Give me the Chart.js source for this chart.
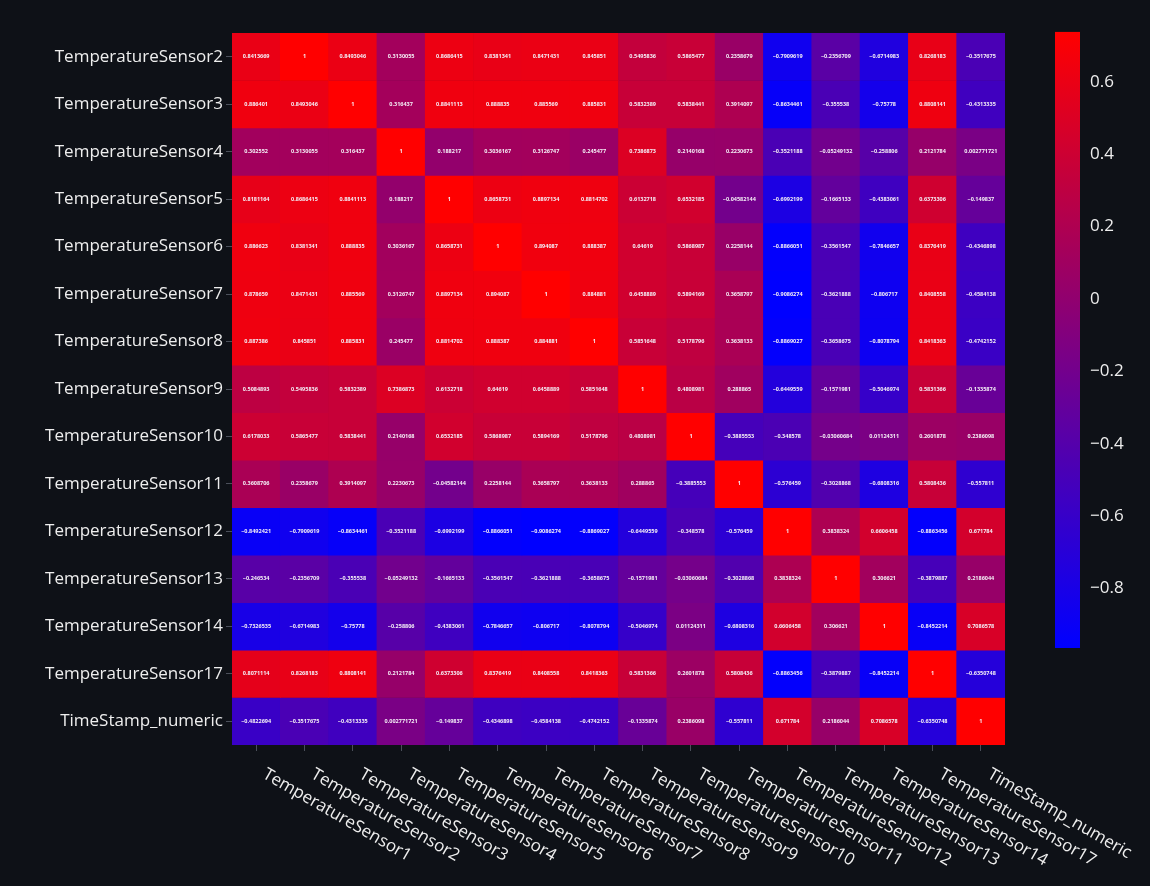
<!DOCTYPE html>
<html>
<head>
<meta charset="utf-8">
<title>Sensor correlation heatmap</title>
<script src="https://cdn.jsdelivr.net/npm/chart.js@4.4.1/dist/chart.umd.min.js"></script>
<style>
  html, body { margin: 0; padding: 0; background: #0e1117; }
  #wrap { position: absolute; left: 0; top: 0; width: 1150px; height: 886px; }
</style>
</head>
<body>
<div id="wrap"><canvas id="heatmap" width="1150" height="886"></canvas></div>
<script>
// Column variables (x) and row variables (y) of the correlation matrix
const COLUMN_LABELS = [
  'TemperatureSensor1', 'TemperatureSensor2', 'TemperatureSensor3', 'TemperatureSensor4',
  'TemperatureSensor5', 'TemperatureSensor6', 'TemperatureSensor7', 'TemperatureSensor8',
  'TemperatureSensor9', 'TemperatureSensor10', 'TemperatureSensor11', 'TemperatureSensor12',
  'TemperatureSensor13', 'TemperatureSensor14', 'TemperatureSensor17', 'TimeStamp_numeric'
];
const ROW_LABELS = [
  'TemperatureSensor2', 'TemperatureSensor3', 'TemperatureSensor4', 'TemperatureSensor5',
  'TemperatureSensor6', 'TemperatureSensor7', 'TemperatureSensor8', 'TemperatureSensor9',
  'TemperatureSensor10', 'TemperatureSensor11', 'TemperatureSensor12', 'TemperatureSensor13',
  'TemperatureSensor14', 'TemperatureSensor17', 'TimeStamp_numeric'
];

// Correlation coefficients, one row per variable (columns in COLUMN_LABELS order)
const sensor2 = [0.8413669, 1, 0.8493046, 0.3130055, 0.8686415, 0.8381341, 0.8471431, 0.845851, 0.5495836, 0.5865477, 0.2358679, -0.7909619, -0.2356709, -0.6714983, 0.8268183, -0.3517675];
const sensor3 = [0.886401, 0.8493046, 1, 0.316437, 0.8841113, 0.888835, 0.885569, 0.885831, 0.5832389, 0.5838441, 0.3914097, -0.8634461, -0.355538, -0.75778, 0.8808141, -0.4313335];
const sensor4 = [0.302552, 0.3130055, 0.316437, 1, 0.188217, 0.3036167, 0.3126747, 0.245477, 0.7386873, 0.2140168, 0.2230673, -0.3521188, -0.05249132, -0.258806, 0.2121784, 0.002771721];
const sensor5 = [0.8181164, 0.8686415, 0.8841113, 0.188217, 1, 0.8658731, 0.8897134, 0.8814702, 0.6132718, 0.6532185, -0.04582144, -0.6992199, -0.1665133, -0.4383061, 0.6373306, -0.149837];
const sensor6 = [0.886623, 0.8381341, 0.888835, 0.3036167, 0.8658731, 1, 0.894087, 0.888387, 0.64619, 0.5868987, 0.2258144, -0.8866051, -0.3561547, -0.7846657, 0.8376419, -0.4346898];
const sensor7 = [0.878659, 0.8471431, 0.885569, 0.3126747, 0.8897134, 0.894087, 1, 0.884881, 0.6458889, 0.5894169, 0.3658797, -0.9086274, -0.3621888, -0.806717, 0.8408558, -0.4584138];
const sensor8 = [0.887386, 0.845851, 0.885831, 0.245477, 0.8814702, 0.888387, 0.884881, 1, 0.5851648, 0.5178796, 0.3638133, -0.8869027, -0.3658675, -0.8078794, 0.8418363, -0.4742152];
const sensor9 = [0.5084893, 0.5495836, 0.5832389, 0.7386873, 0.6132718, 0.64619, 0.6458889, 0.5851648, 1, 0.4808981, 0.288865, -0.6449559, -0.1571981, -0.5046974, 0.5831366, -0.1335874];
const sensor10 = [0.6178033, 0.5865477, 0.5838441, 0.2140168, 0.6532185, 0.5868987, 0.5894169, 0.5178796, 0.4808981, 1, -0.3885553, -0.348578, -0.03060684, 0.01124311, 0.2601878, 0.2386098];
const sensor11 = [0.3608706, 0.2358679, 0.3914097, 0.2230673, -0.04582144, 0.2258144, 0.3658797, 0.3638133, 0.288865, -0.3885553, 1, -0.576459, -0.3028868, -0.6808316, 0.5808436, -0.557811];
const sensor12 = [-0.8492421, -0.7909619, -0.8634461, -0.3521188, -0.6992199, -0.8866051, -0.9086274, -0.8869027, -0.6449559, -0.348578, -0.576459, 1, 0.3838324, 0.6606458, -0.8863456, 0.671784];
const sensor13 = [-0.246534, -0.2356709, -0.355538, -0.05249132, -0.1665133, -0.3561547, -0.3621888, -0.3658675, -0.1571981, -0.03060684, -0.3028868, 0.3838324, 1, 0.306621, -0.3879887, 0.2186044];
const sensor14 = [-0.7326535, -0.6714983, -0.75778, -0.258806, -0.4383061, -0.7846657, -0.806717, -0.8078794, -0.5046974, 0.01124311, -0.6808316, 0.6606458, 0.306621, 1, -0.8452214, 0.7086578];
const sensor17 = [0.8071114, 0.8268183, 0.8808141, 0.2121784, 0.6373306, 0.8376419, 0.8408558, 0.8418363, 0.5831366, 0.2601878, 0.5808436, -0.8863456, -0.3879887, -0.8452214, 1, -0.6350748];
const timeStamp = [-0.4822694, -0.3517675, -0.4313335, 0.002771721, -0.149837, -0.4346898, -0.4584138, -0.4742152, -0.1335874, 0.2386098, -0.557811, 0.671784, 0.2186044, 0.7086578, -0.6350748, 1];

const ROW_VALUES = [sensor2, sensor3, sensor4, sensor5, sensor6, sensor7, sensor8,
  sensor9, sensor10, sensor11, sensor12, sensor13, sensor14, sensor17, timeStamp];

// Colour bar tick labels and the extent of the drawn gradient bar
const COLORBAR_TICKS = [-0.8, -0.6, -0.4, -0.2, 0, 0.2, 0.4, 0.6];
const COLORBAR_BOTTOM = -0.964;
const COLORBAR_TOP = 0.738;
const COLORBAR_AXIS_MIN = -1.232;
const COLORBAR_AXIS_MAX = 0.735;

// Cell colours run from blue at the smallest coefficient to red at the largest
const ALL_VALUES = ROW_VALUES.flat();
const Z_MIN = Math.min(...ALL_VALUES);
const Z_MAX = Math.max(...ALL_VALUES);

const TEXT_COLOR = '#eeeeee';
const TICK_MARK_COLOR = '#4a4f5a';
const LABEL_FONT = 'Open Sans';

function blueRed(t) {
  t = Math.max(0, Math.min(1, t));
  return `rgb(${Math.round(255 * t)},0,${Math.round(255 * (1 - t))})`;
}

function cellColor(v) {
  return blueRed((v - Z_MIN) / (Z_MAX - Z_MIN));
}

function formatValue(v) {
  return String(v).replace('-', '\u2212');
}

function formatTick(v) {
  if (Math.abs(v) < 1e-9) return '0';
  return v.toFixed(1).replace('-', '\u2212');
}

// One floating-bar dataset per row: each bar spans [row, row + 1] on the y axis
const datasets = ROW_VALUES.map((vals, r) => ({
  label: ROW_LABELS[r],
  data: vals.map(() => [r, r + 1]),
  backgroundColor: vals.map(cellColor),
  borderWidth: 0,
  borderSkipped: false,
  barPercentage: 1,
  categoryPercentage: 1,
  grouped: false,
  yAxisID: 'y'
}));

const backgroundPlugin = {
  id: 'pageBackground',
  beforeDraw(chart) {
    const { ctx, width, height } = chart;
    ctx.save();
    ctx.fillStyle = '#0e1117';
    ctx.fillRect(0, 0, width, height);
    ctx.restore();
  }
};

// Writes each coefficient in the centre of its cell
const cellTextPlugin = {
  id: 'cellText',
  afterDatasetsDraw(chart) {
    const { ctx } = chart;
    const xs = chart.scales.x;
    const ys = chart.scales.y;
    ctx.save();
    ctx.fillStyle = '#f4eef6';
    ctx.font = `bold 5.5px ${LABEL_FONT}`;
    ctx.textAlign = 'center';
    ctx.textBaseline = 'middle';
    ROW_VALUES.forEach((vals, r) => {
      const y = ys.getPixelForValue(r + 0.5);
      vals.forEach((v, c) => {
        ctx.fillText(formatValue(v), xs.getPixelForValue(c), y);
      });
    });
    ctx.restore();
  }
};

// Slanted column labels under the x axis
const xLabelPlugin = {
  id: 'slantedXLabels',
  afterDraw(chart) {
    const { ctx, chartArea } = chart;
    const xs = chart.scales.x;
    ctx.save();
    ctx.fillStyle = TEXT_COLOR;
    ctx.font = `17px ${LABEL_FONT}`;
    ctx.textAlign = 'left';
    ctx.textBaseline = 'middle';
    COLUMN_LABELS.forEach((lab, i) => {
      const x = xs.getPixelForValue(i);
      ctx.save();
      ctx.translate(x + 8, chartArea.bottom + 28);
      ctx.rotate(Math.PI / 6);
      ctx.fillText(lab, 0, 0);
      ctx.restore();
    });
    ctx.restore();
  }
};

// Vertical blue-to-red gradient bar, placed on the 'cb' axis
const colorbarPlugin = {
  id: 'colorbar',
  afterDraw(chart) {
    const { ctx } = chart;
    const cb = chart.scales.cb;
    const yTop = cb.getPixelForValue(COLORBAR_TOP);
    const yBot = cb.getPixelForValue(COLORBAR_BOTTOM);
    const x0 = cb.left + 50;
    const w = 25;
    const g = ctx.createLinearGradient(0, yBot, 0, yTop);
    g.addColorStop(0, blueRed(0));
    g.addColorStop(0.5, blueRed(0.5));
    g.addColorStop(1, blueRed(1));
    ctx.save();
    ctx.fillStyle = g;
    ctx.fillRect(x0, yTop, w, yBot - yTop);
    ctx.restore();
  }
};

new Chart(document.getElementById('heatmap'), {
  type: 'bar',
  data: { labels: COLUMN_LABELS, datasets },
  plugins: [backgroundPlugin, cellTextPlugin, xLabelPlugin, colorbarPlugin],
  options: {
    responsive: false,
    animation: false,
    events: [],
    layout: { padding: { top: 33, left: 0, right: 0, bottom: 0 } },
    plugins: { legend: { display: false }, tooltip: { enabled: false } },
    scales: {
      x: {
        type: 'category',
        offset: true,
        grid: { display: true, offset: false, drawOnChartArea: false, drawTicks: true, tickLength: 6, color: TICK_MARK_COLOR },
        border: { display: false },
        ticks: { display: false },
        afterFit(scale) { scale.height = 141; }
      },
      y: {
        type: 'linear',
        min: 0,
        max: ROW_LABELS.length,
        reverse: true,
        grid: { display: true, drawOnChartArea: false, drawTicks: true, tickLength: 6, color: TICK_MARK_COLOR },
        border: { display: false },
        afterBuildTicks(scale) {
          scale.ticks = ROW_LABELS.map((_, i) => ({ value: i + 0.5 }));
        },
        ticks: {
          autoSkip: false,
          color: TEXT_COLOR,
          padding: 3,
          font: { family: LABEL_FONT, size: 17 },
          callback: (v) => ROW_LABELS[Math.floor(v)]
        },
        afterFit(scale) { scale.width = 232; }
      },
      cb: {
        type: 'linear',
        position: 'right',
        min: COLORBAR_AXIS_MIN,
        max: COLORBAR_AXIS_MAX,
        // invisible tick marks push the labels past the gradient bar
        grid: { display: true, drawOnChartArea: false, drawTicks: true, tickLength: 82, color: 'rgba(0,0,0,0)' },
        border: { display: false },
        afterBuildTicks(scale) {
          scale.ticks = COLORBAR_TICKS.map(v => ({ value: v }));
        },
        ticks: {
          autoSkip: false,
          color: TEXT_COLOR,
          padding: 3,
          font: { family: LABEL_FONT, size: 17 },
          callback: (v) => formatTick(v)
        },
        afterFit(scale) { scale.width = 145; }
      }
    }
  }
});
</script>
</body>
</html>
